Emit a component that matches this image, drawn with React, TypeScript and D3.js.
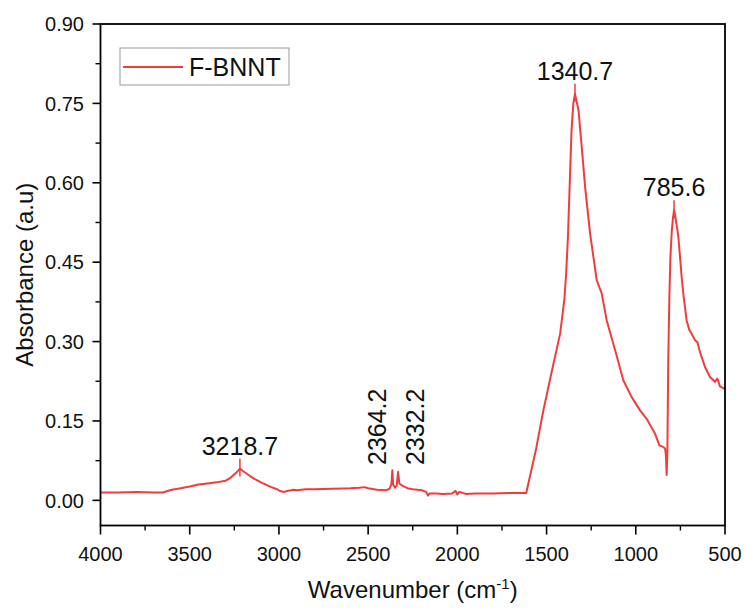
import React from "react";
import * as d3 from "d3";

const wavenumbers = [
  4000, 3900, 3800, 3700, 3650, 3620, 3600, 3550, 3500, 3450, 3400, 3350, 3300, 3270, 3240, 3218.7, 3200, 3170, 3140, 3100,
  3050, 3010, 2990, 2970, 2950, 2930, 2920, 2900, 2850, 2800, 2700, 2600, 2550, 2520, 2500, 2450, 2400, 2380, 2370, 2364.2,
  2360, 2350, 2340, 2332.2, 2325, 2310, 2280, 2250, 2200, 2175, 2165, 2155, 2120, 2080, 2030, 2010, 2000, 1990, 1950, 1900,
  1800, 1700, 1640, 1614, 1560, 1518, 1470, 1424, 1400, 1390, 1380, 1370, 1360, 1350, 1340.7, 1321, 1303, 1284, 1256, 1219,
  1191, 1163, 1116, 1070, 1023, 976, 939, 892, 868, 846, 836, 831, 827, 823, 818, 812, 806, 798, 791, 785.6,
  780, 772, 762, 752, 743, 730, 715, 700, 687, 668, 655, 640, 612, 584, 556, 543, 528, 505, 500,
];
const absorbance = [
  0.015, 0.015, 0.016, 0.015, 0.015, 0.018, 0.02, 0.023, 0.026, 0.03, 0.032, 0.034, 0.037, 0.043, 0.052, 0.06, 0.055, 0.048, 0.041, 0.034,
  0.026, 0.021, 0.017, 0.016, 0.018, 0.019, 0.02, 0.019, 0.021, 0.021, 0.022, 0.023, 0.024, 0.025, 0.023, 0.02, 0.019, 0.022, 0.03, 0.057,
  0.03, 0.024, 0.028, 0.054, 0.032, 0.028, 0.023, 0.021, 0.019, 0.016, 0.009, 0.013, 0.013, 0.012, 0.013, 0.018, 0.011, 0.016, 0.012, 0.013,
  0.013, 0.014, 0.014, 0.014, 0.095, 0.17, 0.245, 0.315, 0.38, 0.43, 0.5, 0.6, 0.7, 0.75, 0.768, 0.737, 0.668, 0.592, 0.504, 0.416,
  0.391, 0.34, 0.284, 0.227, 0.195, 0.17, 0.154, 0.126, 0.104, 0.101, 0.098, 0.085, 0.048, 0.09, 0.265, 0.38, 0.46, 0.51, 0.535, 0.548,
  0.54, 0.522, 0.5, 0.46, 0.422, 0.38, 0.34, 0.322, 0.315, 0.3025, 0.299, 0.28, 0.252, 0.233, 0.224, 0.23, 0.2155, 0.211, 0.21,
];

const xTicks = [4000, 3500, 3000, 2500, 2000, 1500, 1000, 500];
const xMinorTicks = [3750, 3250, 2750, 2250, 1750, 1250, 750];
const yTicks = [0, 0.15, 0.3, 0.45, 0.6, 0.75, 0.9];
const yMinorTicks = [0.075, 0.225, 0.375, 0.525, 0.675, 0.825];

const peakLabels = ["3218.7", "1340.7", "785.6"];
const peakWn = [3218.7, 1340.7, 785.6];
const peakAbs = [0.06, 0.768, 0.548];
const rotLabels = ["2364.2", "2332.2"];
const rotLabelWn = [2400, 2185];

const seriesName = "F-BNNT";
const RED = "#f23c3c";
const FONT = "'Liberation Sans', Arial, sans-serif";

export default function App() {
  const W = 746, H = 611;
  const left = 100.5, right = 725, top = 24, bottom = 525.5;
  const x = d3.scaleLinear().domain([4000, 500]).range([left, right]);
  const y = d3.scaleLinear().domain([-0.0475, 0.9]).range([bottom, top]);
  const data = wavenumbers.map((w, i) => [w, absorbance[i]] as [number, number]);
  const line = d3.line<[number, number]>().x((d) => x(d[0])).y((d) => y(d[1])).curve(d3.curveLinear);

  return (
    <svg width={W} height={H} style={{ position: "absolute", left: 0, top: 0 }} fontFamily={FONT}>
      <rect width={W} height={H} fill="#fff" />
      <path d={line(data) || ""} fill="none" stroke={RED} strokeWidth={2} strokeLinejoin="round" />
      {peakWn.map((w, i) => (
        <line key={"pm" + i} x1={x(w)} x2={x(w)} y1={y(peakAbs[i]) - 10} y2={y(peakAbs[i]) + 8} stroke={RED} strokeWidth={1.5} />
      ))}
      {peakWn.map((w, i) => (
        <text key={"pl" + i} x={x(w)} y={y(peakAbs[i]) - 14} textAnchor="middle" fontSize={25} fill="#111">
          {peakLabels[i]}
        </text>
      ))}
      {rotLabelWn.map((w, i) => (
        <text key={"rl" + i} transform={`translate(${x(w)},465) rotate(-90)`} textAnchor="start" fontSize={25} fill="#111">
          {rotLabels[i]}
        </text>
      ))}
      {/* frame */}
      <rect x={left} y={top} width={right - left} height={bottom - top} fill="none" stroke="#000" strokeWidth={1.8} />
      {/* x ticks */}
      {xTicks.map((t) => (
        <g key={"xt" + t}>
          <line x1={x(t)} x2={x(t)} y1={bottom} y2={bottom + 9} stroke="#000" strokeWidth={1.6} />
          <text x={x(t)} y={561} textAnchor="middle" fontSize={20} fill="#111">{t}</text>
        </g>
      ))}
      {xMinorTicks.map((t) => (
        <line key={"xm" + t} x1={x(t)} x2={x(t)} y1={bottom} y2={bottom + 5} stroke="#000" strokeWidth={1.4} />
      ))}
      {yTicks.map((t) => (
        <g key={"yt" + t}>
          <line x1={left - 8} x2={left} y1={y(t)} y2={y(t)} stroke="#000" strokeWidth={1.6} />
          <text x={84} y={y(t)} dy="0.36em" textAnchor="end" fontSize={20} fill="#111">{t.toFixed(2)}</text>
        </g>
      ))}
      {yMinorTicks.map((t) => (
        <line key={"ym" + t} x1={left - 5} x2={left} y1={y(t)} y2={y(t)} stroke="#000" strokeWidth={1.4} />
      ))}
      {/* axis titles */}
      <text x={(left + right) / 2} y={598} textAnchor="middle" fontSize={24} fill="#111">
        Wavenumber (cm<tspan dy={-9} fontSize={15}>-1</tspan><tspan dy={9}>)</tspan>
      </text>
      <text transform={`translate(33,${(top + bottom) / 2}) rotate(-90)`} textAnchor="middle" fontSize={24} fill="#111">
        Absorbance (a.u)
      </text>
      {/* legend */}
      <rect x={120} y={48} width={169} height={37} fill="#fff" stroke="#999" strokeWidth={1} />
      <line x1={123} x2={183} y1={67} y2={67} stroke={RED} strokeWidth={2} />
      <text x={189} y={76} fontSize={25} fill="#111">{seriesName}</text>
    </svg>
  );
}
